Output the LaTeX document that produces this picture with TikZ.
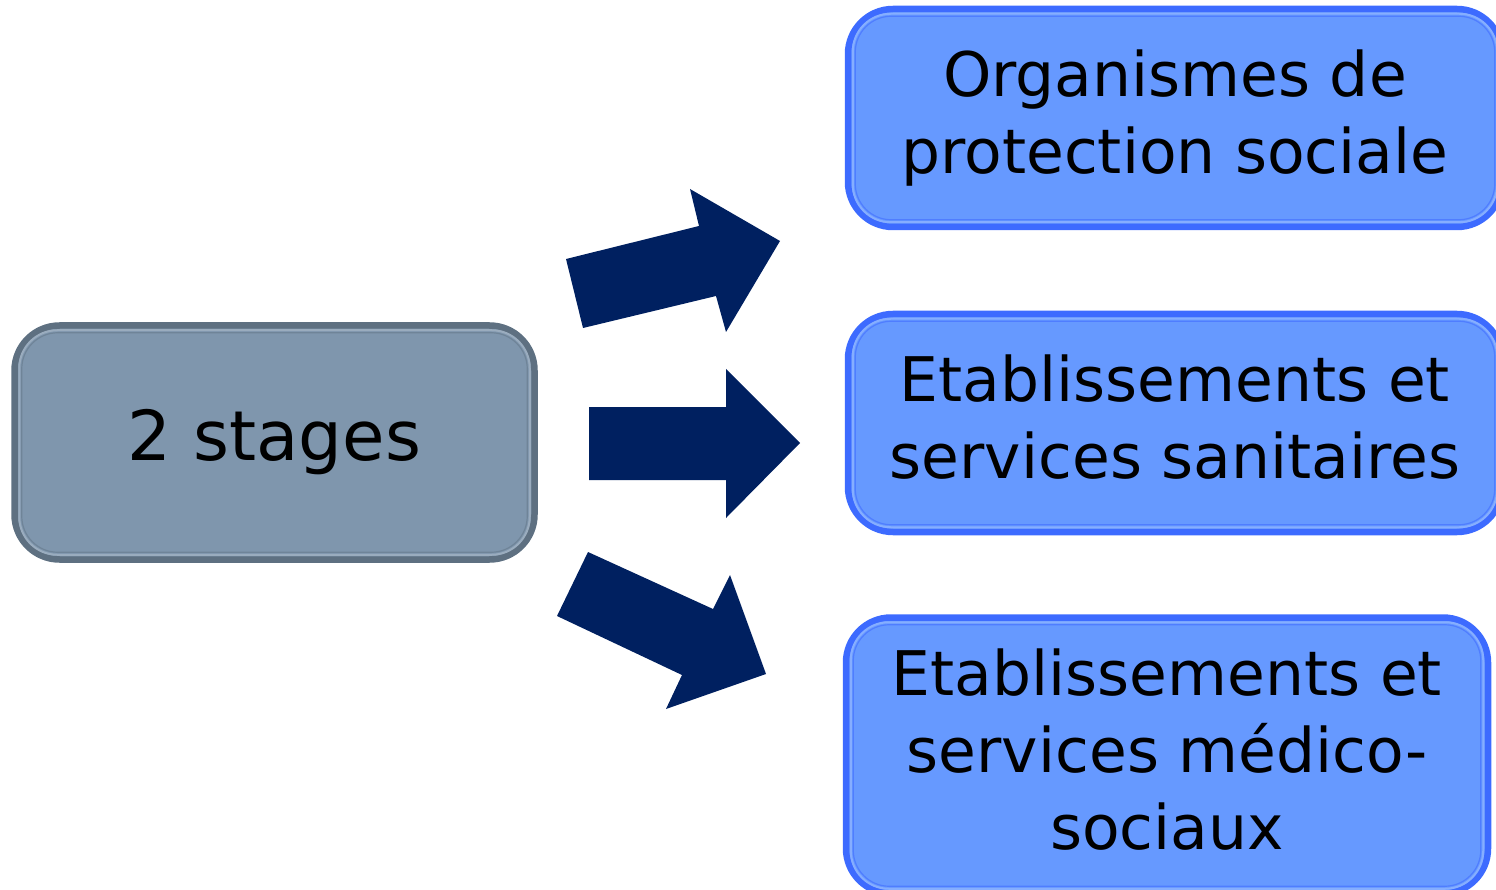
\documentclass[tikz,border=0pt]{standalone}
\usepackage{fontspec}
\setmainfont{DejaVu Sans}
\definecolor{slatefill}{HTML}{7F96AD}
\definecolor{slateedge}{HTML}{5E7081}
\definecolor{slateinner}{HTML}{6F8498}
\definecolor{slatelight}{HTML}{9AACBE}
\definecolor{bluefill}{HTML}{6699FF}
\definecolor{blueedge}{HTML}{3D6BFF}
\definecolor{blueinner}{HTML}{4F7DFF}
\definecolor{bluelight}{HTML}{86AEFF}
\definecolor{navy}{HTML}{002060}
\begin{document}
\begin{tikzpicture}[x=1pt,y=-1pt,
  boxbase/.style={rectangle, rounded corners=45pt, line width=6.5pt, inner sep=0pt, align=center},
  greybox/.style={boxbase, fill=slatefill, draw=slateedge, font=\fontsize{69}{82}\selectfont},
  bluebox/.style={boxbase, fill=bluefill, draw=blueedge, font=\fontsize{61.5}{77}\selectfont},
  bigarrow/.style={fill=navy}
]
\useasboundingbox (0,0) rectangle (1496,890);
\clip (0,0) rectangle (1496,890);

% left box
\node[greybox, minimum width=520pt, minimum height=234pt] (src) at (274.5,442.5) {2 stages};
\draw[slatelight, line width=2pt, rounded corners=38pt] ([shift={(8,8)}]src.north west) rectangle ([shift={(-8,-8)}]src.south east);
\draw[slateinner, line width=1.2pt, rounded corners=36pt] ([shift={(10.5,10.5)}]src.north west) rectangle ([shift={(-10.5,-10.5)}]src.south east);

% right boxes
\node[bluebox, minimum width=654pt, minimum height=218pt] (b1) at (1175,118) {Organismes de\\protection sociale};
\node[bluebox, minimum width=654pt, minimum height=218pt] (b2) at (1175,423) {Etablissements et\\services sanitaires\vphantom{p}};
\node[bluebox, minimum width=642pt, minimum height=276pt] (b3) at (1167,755.5) {Etablissements et\\services médico-\\sociaux\vphantom{p}};
\foreach \b in {b1,b2,b3}{
  \draw[bluelight, line width=2pt, rounded corners=38pt] ([shift={(8,8)}]\b.north west) rectangle ([shift={(-8,-8)}]\b.south east);
  \draw[blueinner, line width=1.2pt, rounded corners=36pt] ([shift={(10.5,10.5)}]\b.north west) rectangle ([shift={(-10.5,-10.5)}]\b.south east);
}

% block arrows
\fill[bigarrow] (566,259) -- (699,226) -- (690,189) -- (780,241) -- (726,332) -- (716,296) -- (583,328) -- cycle;
\fill[bigarrow] (589,407) -- (726,407) -- (726,369) -- (800,443) -- (726,518) -- (726,480) -- (589,480) -- cycle;
\fill[bigarrow] (588,552) -- (713,609) -- (730,575) -- (766,674) -- (666,709) -- (682,675) -- (557,616) -- cycle;
\end{tikzpicture}
\end{document}
